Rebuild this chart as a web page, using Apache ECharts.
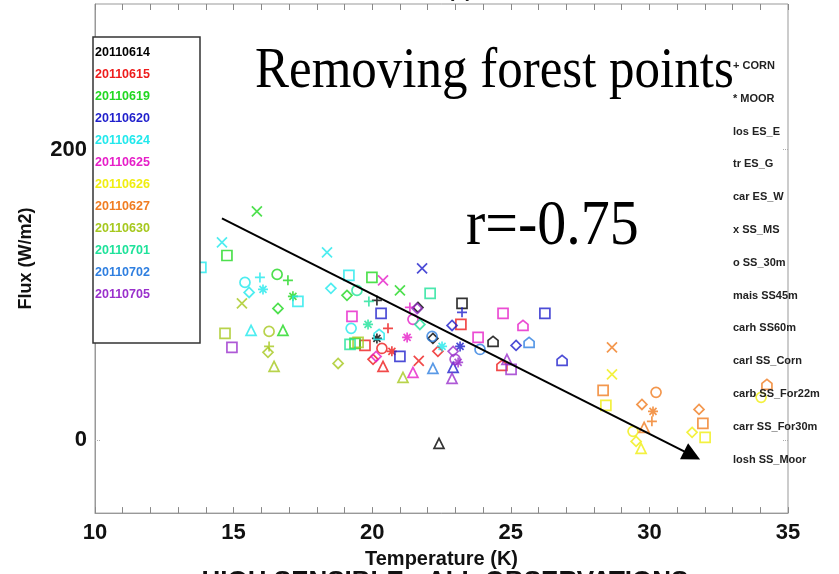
<!DOCTYPE html>
<html>
<head>
<meta charset="utf-8">
<script src="https://cdn.jsdelivr.net/npm/echarts@6/dist/echarts.min.js"></script>
<style>
  html, body { margin: 0; padding: 0; background: #fff; }
  #chart { width: 839px; height: 574px; }
</style>
</head>
<body>
<div id="chart"></div>
<script>
// dates (colour groups) and their colours
const dates = ['20110614', '20110615', '20110619', '20110620', '20110624', '20110625',
               '20110626', '20110627', '20110630', '20110701', '20110702', '20110705'];
const dateColors = ['#000000', '#ee1c1c', '#22d822', '#1f1fcc', '#22e8ec', '#e61fc8',
                    '#f0ee10', '#f07d22', '#a6c81e', '#1ee29a', '#2f7fe0', '#9a30cc'];

// site labels (right side)
const siteLabels = ['+ CORN', '* MOOR', 'los ES_E', 'tr ES_G', 'car ES_W', 'x SS_MS', 'o SS_30m',
                    'mais SS45m', 'carh SS60m', 'carl SS_Corn', 'carb SS_For22m', 'carr SS_For30m', 'losh SS_Moor'];

// points: [temperature, flux, marker]
const pts0614 = [[20.17, 96.2, 'plus'], [20.17, 70.1, 'star'], [21.65, 91.4, 'diamond'], [23.24, 94.2, 'square'],
                 [22.19, 70.1, 'diamond'], [24.36, 68.0, 'house'], [22.41, -2.1, 'triangle']];
const pts0615 = [[20.57, 77.0, 'plus'], [20.71, 61.2, 'star'], [19.74, 65.3, 'square'], [20.35, 63.2, 'circle'],
                 [20.03, 55.7, 'diamond'], [20.39, 50.9, 'triangle'], [21.68, 54.6, 'x'], [23.20, 79.7, 'square'],
                 [22.37, 61.2, 'diamond'], [24.68, 51.5, 'house']];
const pts0619 = [[15.84, 157.4, 'x'], [14.76, 127.1, 'square'], [16.96, 110.0, 'plus'], [17.14, 99.0, 'star'],
                 [16.60, 90.7, 'diamond'], [16.78, 75.6, 'triangle'], [16.57, 114.1, 'circle'], [19.99, 112.0, 'square'],
                 [19.09, 99.7, 'diamond'], [21.00, 103.1, 'x'], [19.38, 66.7, 'square']];
const pts0620 = [[21.80, 118.2, 'x'], [20.32, 87.3, 'square'], [21.00, 57.7, 'square'], [23.24, 88.0, 'plus'],
                 [22.88, 79.0, 'diamond'], [23.17, 64.6, 'star'], [22.92, 50.2, 'triangle'], [26.23, 87.3, 'square'],
                 [25.19, 65.3, 'diamond'], [26.85, 55.0, 'house']];
const pts0624 = [[14.58, 136.1, 'x'], [15.41, 108.6, 'circle'], [15.95, 112.0, 'plus'], [16.06, 103.8, 'star'],
                 [15.56, 101.7, 'diamond'], [15.63, 75.6, 'triangle'], [17.32, 95.5, 'square'], [18.37, 129.2, 'x'],
                 [18.51, 104.5, 'diamond'], [19.16, 113.4, 'square'], [19.24, 77.0, 'circle'], [20.25, 72.9, 'house'],
                 [13.82, 118.9, 'square'], [22.52, 64.6, 'star']];
const pts0625 = [[20.39, 110.0, 'x'], [19.27, 85.2, 'square'], [21.26, 70.8, 'star'], [21.36, 91.4, 'plus'],
                 [20.14, 57.7, 'diamond'], [21.47, 83.2, 'circle'], [21.47, 46.7, 'triangle'], [24.72, 87.3, 'square'],
                 [25.44, 79.0, 'house'], [23.82, 70.8, 'square']];
const pts0626 = [[28.65, 45.4, 'x'], [28.43, 24.1, 'square'], [29.41, 6.2, 'circle'], [29.52, -0.7, 'diamond'],
                 [29.70, -5.5, 'triangle'], [31.54, 5.5, 'diamond'], [32.01, 2.1, 'square'], [34.03, 29.6, 'circle']];
const pts0627 = [[28.65, 63.9, 'x'], [28.33, 34.4, 'square'], [30.24, 33.0, 'circle'], [29.73, 24.7, 'diamond'],
                 [30.13, 19.9, 'star'], [30.09, 13.1, 'plus'], [29.81, 8.9, 'triangle'], [31.79, 21.3, 'diamond'],
                 [31.93, 11.7, 'square'], [34.24, 38.5, 'house']];
const pts0630 = [[15.30, 94.2, 'x'], [14.69, 73.5, 'square'], [16.28, 74.9, 'circle'], [16.28, 64.6, 'plus'],
                 [16.24, 60.5, 'diamond'], [16.46, 50.9, 'triangle'], [18.77, 52.9, 'diamond'], [19.49, 67.4, 'square'],
                 [21.11, 43.3, 'triangle']];
const pts0701 = [[19.88, 95.5, 'plus'], [19.85, 79.7, 'star'], [22.09, 101.0, 'square'], [21.72, 79.7, 'diamond'],
                 [19.45, 103.1, 'circle'], [19.20, 66.0, 'square']];
const pts0702 = [[22.16, 71.5, 'circle'], [22.19, 49.5, 'triangle'], [23.89, 62.5, 'circle'], [25.66, 67.4, 'house']];
const pts0705 = [[14.94, 63.9, 'square'], [21.62, 90.7, 'diamond'], [22.92, 61.2, 'diamond'], [23.10, 53.6, 'star'],
                 [22.99, 55.7, 'circle'], [22.88, 42.6, 'triangle'], [24.86, 55.7, 'triangle'], [25.01, 48.8, 'square']];
const pointsByDate = [pts0614, pts0615, pts0619, pts0620, pts0624, pts0625,
                      pts0626, pts0627, pts0630, pts0701, pts0702, pts0705];

// regression arrow (start, end) in data units
const trendStart = [14.58, 152.6];
const trendEnd = [31.54, -10.3];

// tick labels
const xTicks = [10, 15, 20, 25, 30, 35];
const yTicks = [0, 200];

const markerPaths = {
    plus: 'path://M5,0L5,10M0,5L10,5',
    x: 'path://M0,0L10,10M10,0L0,10',
    star: 'path://M5,0L5,10M0,5L10,5M1.5,1.5L8.5,8.5M8.5,1.5L1.5,8.5',
    circle: 'circle',
    square: 'rect',
    diamond: 'diamond',
    triangle: 'triangle',
    house: 'path://M0,10L0,4L5,0L10,4L10,10Z'
};

const myChart = echarts.init(document.getElementById('chart'));

const scatterSeries = dates.map((d, i) => ({
    type: 'scatter',
    name: d,
    symbolSize: 10,
    itemStyle: { color: 'rgba(0,0,0,0)', borderColor: dateColors[i], borderWidth: 1.7 },
    data: pointsByDate[i].map(p => ({ value: [p[0], p[1]], symbol: markerPaths[p[2]] })),
    z: 2
}));

const labelFont = { fontFamily: 'Liberation Sans', fontWeight: 'bold', fontSize: 22, color: '#111' };

const graphics = [];
// left date legend box
graphics.push({
    type: 'rect', z: 50,
    shape: { x: 93, y: 37, width: 107, height: 306 },
    style: { fill: '#fff', stroke: '#333', lineWidth: 1.5 }
});
dates.forEach((d, i) => {
    graphics.push({
        type: 'text', z: 51, x: 95, y: 53 + i * 22,
        style: { text: d, font: 'bold 12.5px "Liberation Sans"', fill: dateColors[i], textVerticalAlign: 'middle' }
    });
});
// right site labels
siteLabels.forEach((s, i) => {
    graphics.push({
        type: 'text', z: 40, x: 733, y: 66 + i * 32.8,
        style: { text: s, font: 'bold 11px "Liberation Sans"', fill: '#222', textVerticalAlign: 'middle' }
    });
});
// annotations
graphics.push({
    type: 'text', z: 60, x: 255, y: 72, scaleY: 1.12,
    style: { text: 'Removing forest points', font: '51px "Liberation Serif"', fill: '#000', textVerticalAlign: 'middle' }
});
graphics.push({
    type: 'text', z: 60, x: 466, y: 227, scaleY: 1.1,
    style: { text: 'r=-0.75', font: '58px "Liberation Serif"', fill: '#000', textVerticalAlign: 'middle' }
});
// clipped title and caption
graphics.push({
    type: 'text', z: 60, x: 460, y: -9,
    style: { text: '(a)', font: 'bold 20px "Liberation Sans"', fill: '#222', textAlign: 'center', textVerticalAlign: 'middle' }
});
graphics.push({
    type: 'text', z: 60, x: 445, y: 569,
    style: { text: 'HIGH SENSIBLE - ALL OBSERVATIONS', font: 'bold 26px "Liberation Sans"', fill: '#111', textAlign: 'center', textVerticalAlign: 'top' }
});

const option = {
    backgroundColor: '#ffffff',
    animation: false,
    grid: { left: 95, right: 51, top: 4, bottom: 59, show: true, borderColor: '#999', borderWidth: 1, backgroundColor: 'transparent' },
    xAxis: [
        {
            type: 'value', min: 10, max: 35, interval: 5,
            name: 'Temperature (K)', nameLocation: 'middle', nameGap: 31,
            nameTextStyle: { fontFamily: 'Liberation Sans', fontWeight: 'bold', fontSize: 20, color: '#111' },
            axisLine: { show: true, onZero: false, lineStyle: { color: '#999' } },
            axisTick: { show: true, inside: true, length: 6, lineStyle: { color: '#888' } },
            minorTick: { show: true, splitNumber: 5, length: 6, lineStyle: { color: '#888' } },
            splitLine: { show: false },
            axisLabel: Object.assign({ margin: 9, customValues: xTicks }, labelFont)
        },
        {
            type: 'value', min: 10, max: 35, interval: 5, position: 'top',
            axisLine: { show: false, onZero: false },
            axisTick: { show: true, inside: true, length: 6, lineStyle: { color: '#888' } },
            minorTick: { show: true, splitNumber: 5, length: 6, lineStyle: { color: '#888' } },
            splitLine: { show: false },
            axisLabel: { show: false }
        }
    ],
    yAxis: [
        {
            type: 'value', min: -50, max: 300,
            name: 'Flux (W/m2)', nameLocation: 'middle', nameGap: 60,
            nameTextStyle: { fontFamily: 'Liberation Sans', fontWeight: 'bold', fontSize: 18, color: '#111' },
            axisLine: { show: true, onZero: false, lineStyle: { color: '#999' } },
            axisTick: { show: true, inside: true, length: 6, customValues: yTicks, lineStyle: { color: '#aaa', type: 'dotted' } },
            splitLine: { show: false },
            axisLabel: Object.assign({ margin: 8, customValues: yTicks }, labelFont)
        },
        {
            type: 'value', min: -50, max: 300, position: 'right',
            axisLine: { show: false, onZero: false },
            axisTick: { show: true, inside: true, length: 6, customValues: yTicks, lineStyle: { color: '#aaa', type: 'dotted' } },
            splitLine: { show: false },
            axisLabel: { show: false }
        }
    ],
    series: scatterSeries.concat([{
        type: 'scatter',
        data: [],
        markLine: {
            silent: true,
            symbol: ['none', 'triangle'],
            symbolSize: 18,
            label: { show: false },
            lineStyle: { color: '#000', width: 2, type: 'solid' },
            data: [[{ coord: trendStart }, { coord: trendEnd }]]
        },
        z: 5
    }]),
    graphic: graphics
};

myChart.setOption(option);
</script>
</body>
</html>
